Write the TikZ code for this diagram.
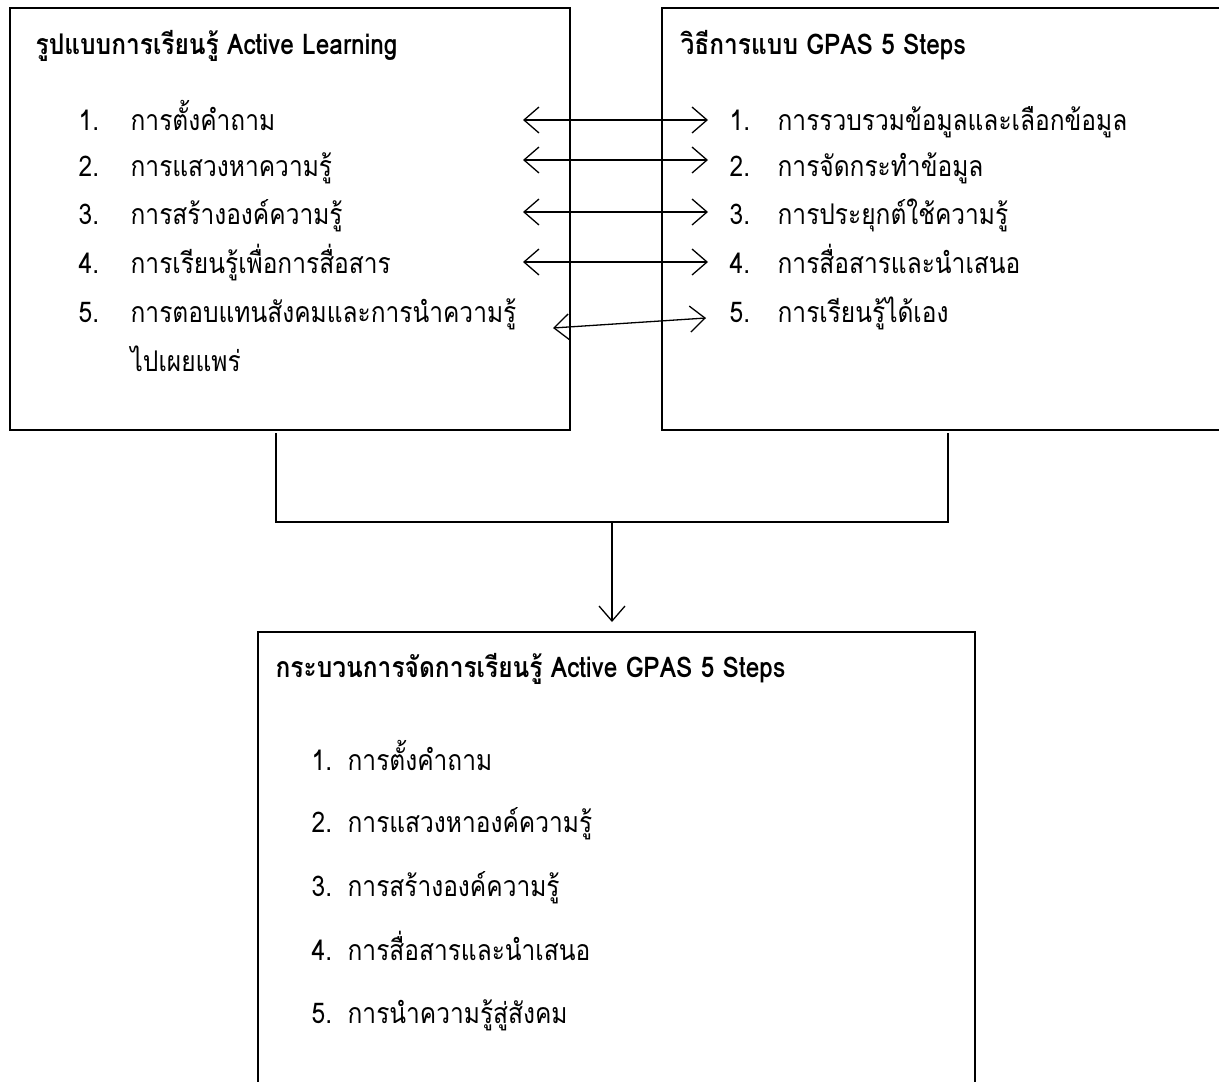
\documentclass[tikz,border=0pt]{standalone}
\usepackage{fontspec}
\setmainfont[Script=Thai,FakeStretch=0.86]{Loma}
\usetikzlibrary{arrows.meta}
\begin{document}
\begin{tikzpicture}[x=1pt,y=-1pt,
  line width=1.3pt,
  >={Straight Barb[length=15pt,width=26pt]},
  txt/.style={anchor=base west,inner sep=0pt,font=\fontsize{28.5}{32}\selectfont},
  ttl/.style={anchor=base west,inner sep=0pt,font=\fontsize{28.5}{32}\selectfont\bfseries},
  link/.style={<->},
  down/.style={->}]
\useasboundingbox (0,0) rectangle (1219,1082);
% boxes
\draw (10,8) rectangle (570,430);
\draw (1219,8) -- (662,8) -- (662,430) -- (1219,430);
\draw (258,1082) -- (258,632) -- (975,632) -- (975,1082);
% left box
\node[ttl] (lt) at (35,54) {รูปแบบการเรียนรู้ Active Learning};
\node[txt] (ln1) at (78,130) {1.};
\node[txt] (l1) at (130,130) {การตั้งคำถาม};
\node[txt] (ln2) at (78,176) {2.};
\node[txt] (l2) at (130,176) {การแสวงหาความรู้};
\node[txt] (ln3) at (78,224) {3.};
\node[txt] (l3) at (130,224) {การสร้างองค์ความรู้};
\node[txt] (ln4) at (78,273) {4.};
\node[txt] (l4) at (130,273) {การเรียนรู้เพื่อการสื่อสาร};
\node[txt] (ln5) at (78,322) {5.};
\node[txt] (l5) at (130,322) {การตอบแทนสังคมและการนำความรู้};
\node[txt] (l5b) at (130,371) {ไปเผยแพร่};
% right box
\node[ttl] (rt) at (680,54) {วิธีการแบบ GPAS 5 Steps};
\node[txt] (rn1) at (729,130) {1.};
\node[txt] (r1) at (777,130) {การรวบรวมข้อมูลและเลือกข้อมูล};
\node[txt] (rn2) at (729,176) {2.};
\node[txt] (r2) at (777,176) {การจัดกระทำข้อมูล};
\node[txt] (rn3) at (729,224) {3.};
\node[txt] (r3) at (777,224) {การประยุกต์ใช้ความรู้};
\node[txt] (rn4) at (729,273) {4.};
\node[txt] (r4) at (777,273) {การสื่อสารและนำเสนอ};
\node[txt] (rn5) at (729,322) {5.};
\node[txt] (r5) at (777,322) {การเรียนรู้ได้เอง};
% bottom box
\node[ttl] (bt) at (275,677) {กระบวนการจัดการเรียนรู้ Active GPAS 5 Steps};
\node[txt] (bn1) at (311,770) {1.};
\node[txt] (b1) at (347,770) {การตั้งคำถาม};
\node[txt] (bn2) at (311,832) {2.};
\node[txt] (b2) at (347,832) {การแสวงหาองค์ความรู้};
\node[txt] (bn3) at (311,896) {3.};
\node[txt] (b3) at (347,896) {การสร้างองค์ความรู้};
\node[txt] (bn4) at (311,960) {4.};
\node[txt] (b4) at (347,960) {การสื่อสารและนำเสนอ};
\node[txt] (bn5) at (311,1023) {5.};
\node[txt] (b5) at (347,1023) {การนำความรู้สู่สังคม};
% arrow endpoints
\coordinate (a1) at (523,120); \coordinate (c1) at (708,120);
\coordinate (a2) at (523,160); \coordinate (c2) at (708,160);
\coordinate (a3) at (523,212); \coordinate (c3) at (708,212);
\coordinate (a4) at (523,262); \coordinate (c4) at (708,262);
\coordinate (a5) at (553,328); \coordinate (c5) at (706,318);
\draw[link] (a1) -- (c1);
\draw[link] (a2) -- (c2);
\draw[link] (a3) -- (c3);
\draw[link] (a4) -- (c4);
\draw[link] (a5) -- (c5);
% merge connector
\coordinate (jl) at (276,433); \coordinate (jr) at (948,433);
\coordinate (hl) at (276,522); \coordinate (hr) at (948,522);
\coordinate (hm) at (612,522); \coordinate (bm) at (612,622);
\draw (jl) -- (hl) -- (hr) -- (jr);
\draw[down] (hm) -- (bm);
\end{tikzpicture}
\end{document}
